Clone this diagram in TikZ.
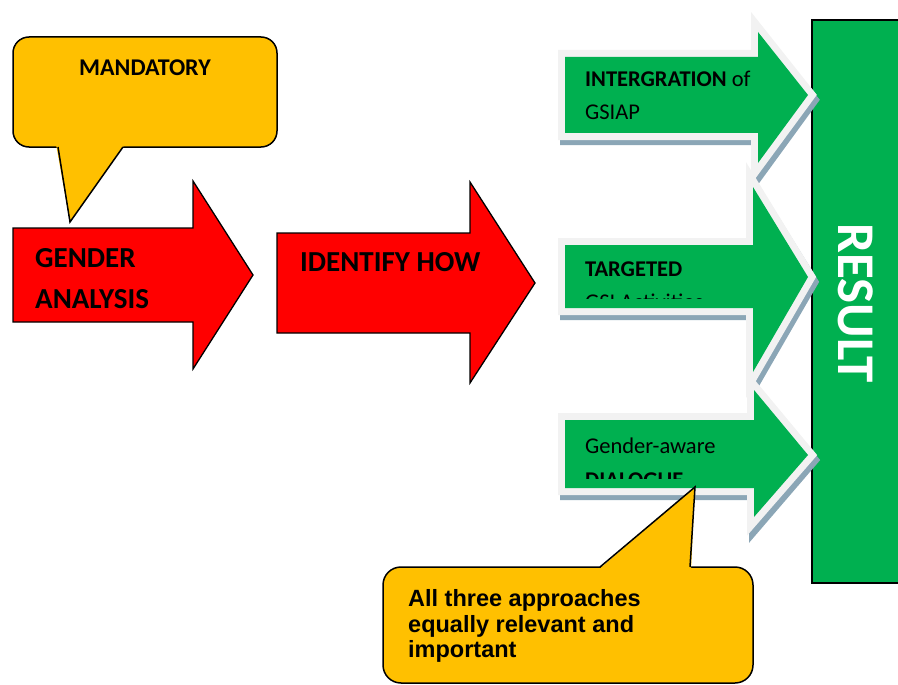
\documentclass[tikz,border=0pt]{standalone}
\usepackage{fontspec}
\setmainfont{Carlito}
\newfontfamily\arialf{Liberation Sans}
\definecolor{redA}{HTML}{FF0000}
\definecolor{yelA}{HTML}{FFC000}
\definecolor{grnA}{HTML}{00B050}
\definecolor{glowA}{HTML}{F2F2F2}
\definecolor{shadA}{HTML}{8BA6B6}
\tikzset{
  redarrow/.style={fill=redA, draw=black, line width=1.3pt, line join=miter},
  callout/.style={fill=yelA, draw=black, line width=1.5pt},
  glowpath/.style={draw=glowA, line width=14pt, line join=miter, miter limit=20},
  shadpath/.style={draw=shadA, fill=shadA, line width=14pt, line join=miter, miter limit=20},
  grnfill/.style={fill=grnA},
  txt/.style={anchor=base west, inner sep=0pt, text=black},
}
\begin{document}
\begin{tikzpicture}[x=1pt,y=-1pt]
\useasboundingbox (0,0) rectangle (898,685);
\clip (0,0) rectangle (898,685);

% RESULT bar
\draw[fill=grnA, draw=black, line width=1.5pt] (812,20) rectangle (910,583);
\node[rotate=-90, text=white, inner sep=0pt] (result) at (856,303) {\fontsize{53}{60}\selectfont\bfseries RESULT};

% green arrows: shadow, glow, fill
\foreach \xl/\yt/\yb/\xh/\ht/\hb/\xt/\yc in {565/57/133/758/32/163/808/95, 565/245/308/753/187/372/808/277, 565/420/488/754/390/517/808/455}{
  \path[shadpath] ([shift={(2,5)}]\xl,\yt) -- ([shift={(2,5)}]\xh,\yt) -- ([shift={(2,5)}]\xh,\ht) -- ([shift={(3,5)}]\xt,\yc) -- ([shift={(2,7)}]\xh,\hb) -- ([shift={(2,5)}]\xh,\yb) -- ([shift={(2,5)}]\xl,\yb) -- cycle;
}
\foreach \xl/\yt/\yb/\xh/\ht/\hb/\xt/\yc in {565/57/133/758/32/163/808/95, 565/245/308/753/187/372/808/277, 565/420/488/754/390/517/808/455}{
  \path[glowpath] (\xl,\yt) -- (\xh,\yt) -- (\xh,\ht) -- (\xt,\yc) -- (\xh,\hb) -- (\xh,\yb) -- (\xl,\yb) -- cycle;
  \path[grnfill] (\xl,\yt) -- (\xh,\yt) -- (\xh,\ht) -- (\xt,\yc) -- (\xh,\hb) -- (\xh,\yb) -- (\xl,\yb) -- cycle;
}

% texts in green arrows
\node[txt] (g1a) at (585,87) {\fontsize{22.5}{26}\selectfont\textbf{INTERGRATION} of};
\node[txt] (g1b) at (585,120) {\fontsize{22.5}{26}\selectfont GSIAP};
\node[txt] (g2a) at (585,276) {\fontsize{22.5}{26}\selectfont\bfseries TARGETED};
\begin{scope}
\clip (560,282) rectangle (760,298);
\node[txt] (g2b) at (585,309) {\fontsize{22.5}{26}\selectfont GSI Activities};
\end{scope}
\node[txt] (g3a) at (585,453) {\fontsize{22.5}{26}\selectfont Gender-aware};
\begin{scope}
\clip (560,462) rectangle (760,478);
\node[txt] (g3b) at (585,487) {\fontsize{22.5}{26}\selectfont\bfseries DIALOGUE};
\end{scope}

% red arrows
\draw[redarrow] (13,228) -- (193,228) -- (193,181) -- (253,275) -- (193,369) -- (193,322) -- (13,322) -- cycle;
\draw[redarrow] (277,233) -- (470,233) -- (470,182) -- (535,283) -- (470,383) -- (470,333) -- (277,333) -- cycle;
\node[txt] (ga1) at (35,267) {\fontsize{29}{33}\selectfont\bfseries GENDER};
\node[txt] (ga2) at (35,308) {\fontsize{29}{33}\selectfont\bfseries ANALYSIS};
\node[txt] (idh) at (300,271) {\fontsize{29}{33}\selectfont\bfseries IDENTIFY HOW};

% MANDATORY callout
\draw[callout, rounded corners=16] (13,37) rectangle (277,147);
\fill[yelA] (56,144) -- (70,222) -- (125,144) -- cycle;
\draw[callout, fill=none, line join=miter] (58,147) -- (70,222) -- (123,147);
\node[anchor=base, inner sep=0pt] (mand) at (145,76) {\fontsize{24}{28}\selectfont\bfseries MANDATORY};

% bottom callout
\draw[callout, rounded corners=18] (383,567) rectangle (753,683);
\fill[yelA] (598,570) -- (695,487) -- (691,570) -- cycle;
\draw[callout, fill=none, line join=miter] (600,567) -- (695,487) -- (690,567);
\node[txt] (b1) at (408,606) {\arialf\fontsize{23.5}{26}\selectfont\bfseries All three approaches};
\node[txt] (b2) at (408,632) {\arialf\fontsize{23.5}{26}\selectfont\bfseries equally relevant and};
\node[txt] (b3) at (408,657) {\arialf\fontsize{23.5}{26}\selectfont\bfseries important};
\end{tikzpicture}
\end{document}
